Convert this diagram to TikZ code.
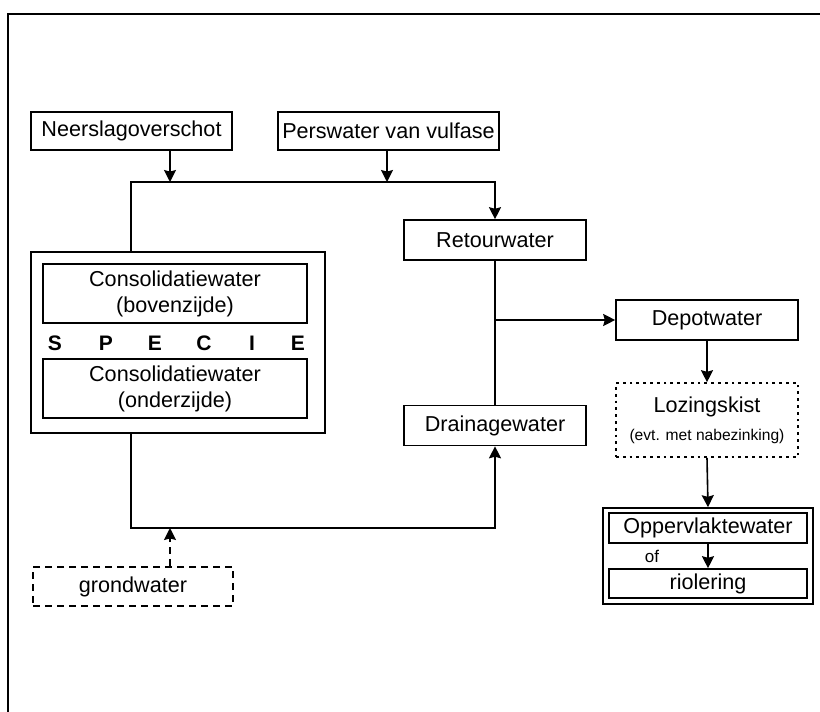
\documentclass[tikz,border=0pt]{standalone}
\usepackage{fontspec}
\setmainfont{Liberation Sans}
\usepackage{tikz}
\usepackage{xcolor}
\usetikzlibrary{arrows.meta}

\begin{document}
\begin{tikzpicture}[x=0.5pt,y=-0.5pt,>={Stealth[length=6pt,width=6pt,inset=0.8pt]},
    vak/.style={draw,thick,inner sep=0pt,align=center,font=\fontsize{10.8}{13}\selectfont},
    stippel/.style={dash pattern=on 1.4pt off 2pt},
    streep/.style={dash pattern=on 3.5pt off 2.5pt}]
      \useasboundingbox (0,0) rectangle (820,712);
      % kader
      \draw [thick] (8,712) -- (8,14) -- (820,14);
      % bronnen
      \node [vak,minimum width=100.5pt,minimum height=19pt] (neerslag) at (131.5,131) {Neerslagoverschot};
      \node [vak,minimum width=110.5pt,minimum height=19pt] (pers) at (388.5,131) {Perswater van vulfase};
      % specie
      \node [vak,minimum width=147pt,minimum height=90.5pt] (specie) at (178,342.5) {};
      \node [vak,minimum width=132pt,minimum height=29.5pt] (boven) at (175,293.5) {Consolidatiewater\\(bovenzijde)};
      \node [vak,minimum width=132pt,minimum height=29.5pt] (onder) at (175,388.5) {Consolidatiewater\\(onderzijde)};
      \foreach \x/\l [count=\i] in {55/S,106/P,155/E,204/C,252/I,298/E}
        \node [font=\fontsize{10.5}{12}\selectfont\bfseries] (sp\i) at (\x,343) {\l};
      \node [vak,streep,minimum width=100pt,minimum height=19.5pt] (grond) at (133,586.5) {grondwater};
      % water
      \node [vak,minimum width=91pt,minimum height=20pt] (retour) at (495,240) {Retourwater};
      \node [vak,minimum width=91pt,minimum height=20pt] (drain) at (495,425.5) {Drainagewater};
      \node [vak,minimum width=91pt,minimum height=20pt] (depot) at (707,320) {Depotwater};
      \node [vak,stippel,minimum width=91pt,minimum height=37pt] (lozing) at (707,420)
        {Lozingskist\\[1pt]{\fontsize{7.8}{9}\selectfont(evt. met nabezinking)}};
      \node [vak,minimum width=105pt,minimum height=48pt] (afvoer) at (708,556) {};
      \node [vak,minimum width=99pt,minimum height=15pt] (opp) at (708,528) {Oppervlaktewater};
      \node [vak,minimum width=99pt,minimum height=14.5pt] (riool) at (708,583.5) {riolering};
      \node [font=\fontsize{8.5}{10}\selectfont] (of) at (652,556) {of};
      % knooppunten
      \coordinate (hoekLB) at (131,182);
      \coordinate (kn1) at (170,182);
      \coordinate (kn2) at (387,182);
      \coordinate (hoekLO) at (131,528);
      \coordinate (kn3) at (170,528);
      % verbindingen
      \draw [thick,->] (neerslag.south -| kn1) -- (kn1);
      \draw [thick,->] (pers.south -| kn2) -- (kn2);
      \draw [thick,->] (specie.north -| hoekLB) -- (hoekLB) -- (hoekLB -| retour) -- (retour.north);
      \draw [thick] (retour.south) -- (drain.north);
      \draw [thick,->] (retour.south |- depot.west) -- (depot.west);
      \draw [thick,->] (specie.south -| hoekLO) -- (hoekLO) -- (hoekLO -| drain) -- (drain.south);
      \draw [thick,streep,->] (grond.north -| kn3) -- (kn3);
      \draw [thick,->] (depot.south -| lozing) -- (lozing.north);
      \draw [thick,->] (lozing.south) -- (afvoer.north);
      \draw [thick,->] (opp.south) -- (riool.north);
    \end{tikzpicture}
\end{document}
